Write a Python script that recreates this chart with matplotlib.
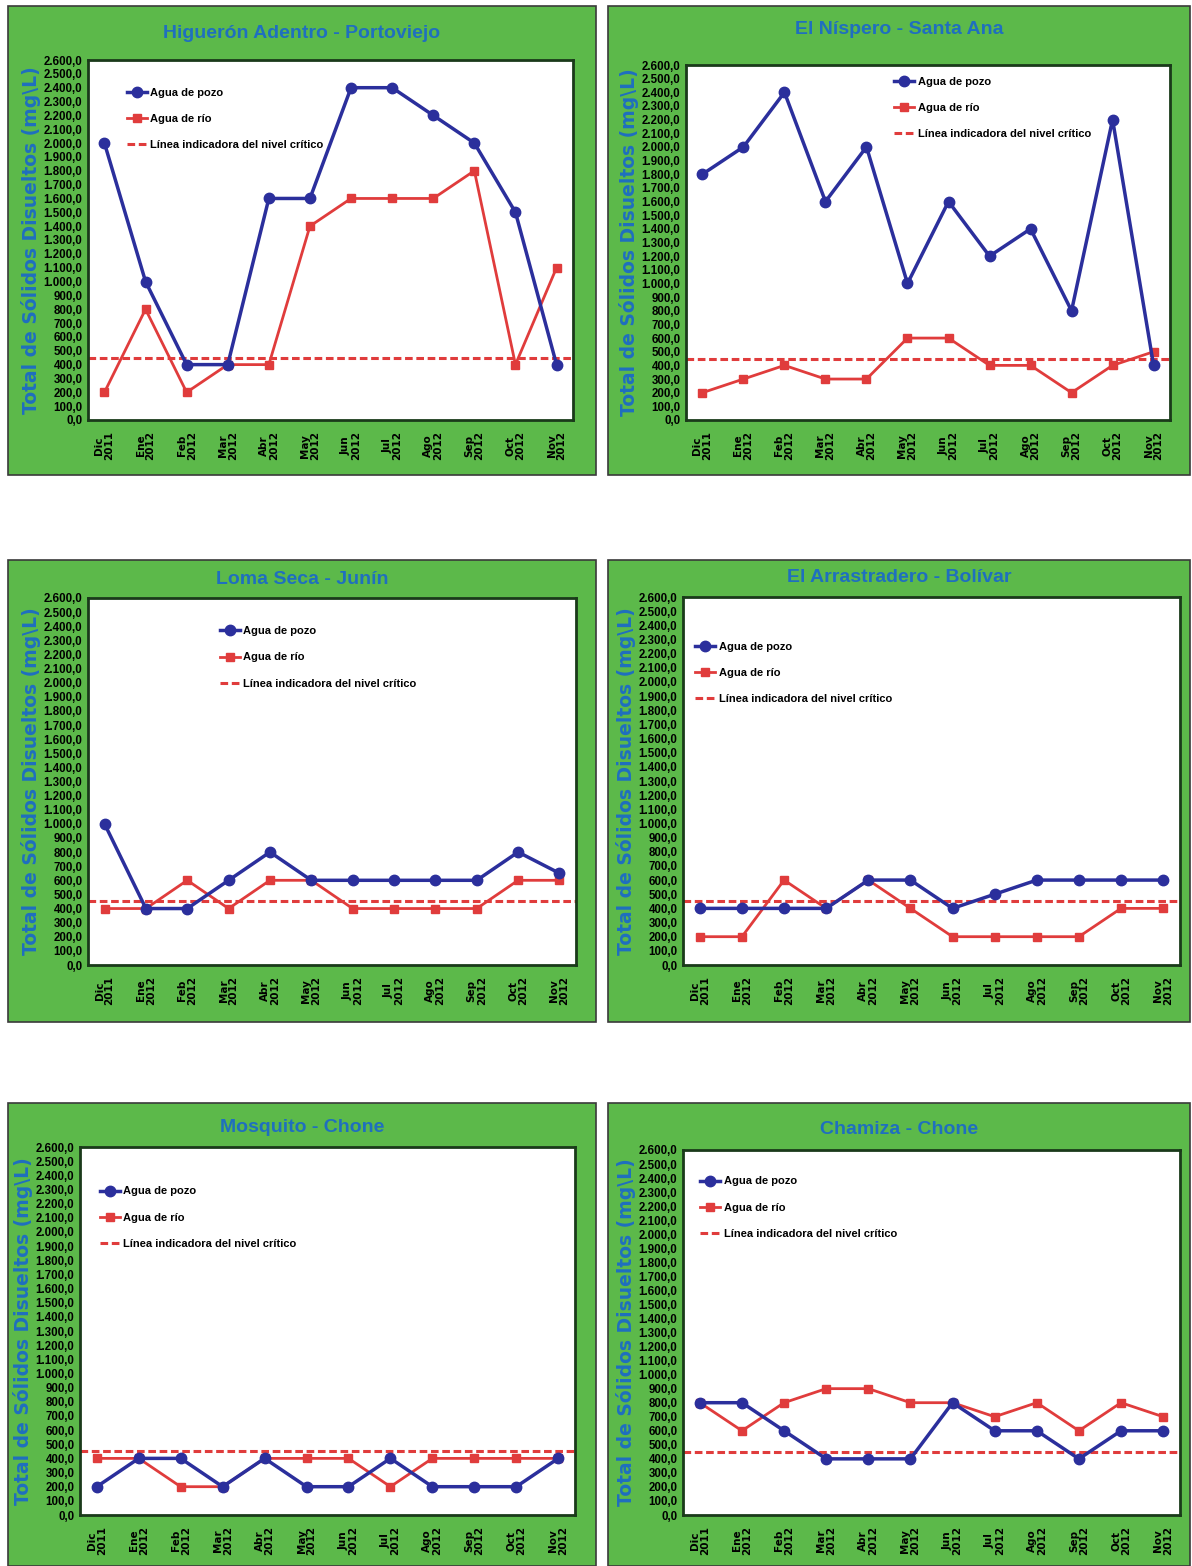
import numpy as np
import matplotlib
matplotlib.use("Agg")
import matplotlib.pyplot as plt
from matplotlib.patches import Rectangle
from matplotlib.ticker import FuncFormatter

# datos (mg/L) - Dic 2011 a Nov 2012
meses = ["Dic\n2011", "Ene\n2012", "Feb\n2012", "Mar\n2012", "Abr\n2012", "May\n2012",
         "Jun\n2012", "Jul\n2012", "Ago\n2012", "Sep\n2012", "Oct\n2012", "Nov\n2012"]
nivel_critico = 450

titulos = ["Higuerón Adentro - Portoviejo", "El Níspero - Santa Ana", "Loma Seca - Junín",
           "El Arrastradero - Bolívar", "Mosquito - Chone", "Chamiza - Chone"]

pozo_higueron = [2000, 1000, 400, 400, 1600, 1600, 2400, 2400, 2200, 2000, 1500, 400]
rio_higueron = [200, 800, 200, 400, 400, 1400, 1600, 1600, 1600, 1800, 400, 1100]

pozo_nispero = [1800, 2000, 2400, 1600, 2000, 1000, 1600, 1200, 1400, 800, 2200, 400]
rio_nispero = [200, 300, 400, 300, 300, 600, 600, 400, 400, 200, 400, 500]

pozo_loma = [1000, 400, 400, 600, 800, 600, 600, 600, 600, 600, 800, 650]
rio_loma = [400, 400, 600, 400, 600, 600, 400, 400, 400, 400, 600, 600]

pozo_arrastradero = [400, 400, 400, 400, 600, 600, 400, 500, 600, 600, 600, 600]
rio_arrastradero = [200, 200, 600, 400, 600, 400, 200, 200, 200, 200, 400, 400]

pozo_mosquito = [200, 400, 400, 200, 400, 200, 200, 400, 200, 200, 200, 400]
rio_mosquito = [400, 400, 200, 200, 400, 400, 400, 200, 400, 400, 400, 400]

pozo_chamiza = [800, 800, 600, 400, 400, 400, 800, 600, 600, 400, 600, 600]
rio_chamiza = [800, 600, 800, 900, 900, 800, 800, 700, 800, 600, 800, 700]

pozos = [pozo_higueron, pozo_nispero, pozo_loma, pozo_arrastradero, pozo_mosquito, pozo_chamiza]
rios = [rio_higueron, rio_nispero, rio_loma, rio_arrastradero, rio_mosquito, rio_chamiza]

W, H = 1192, 1566
VERDE = "#5cb94a"
AZUL = "#2b2f9c"
ROJO = "#e03c3c"
AZUL_TXT = "#1f6fbf"
fuente = ["Liberation Sans", "DejaVu Sans"]

# cajas verdes y ejes (pixeles: x0, y0, x1, y1)
cajas = [(8, 6, 596, 475), (608, 6, 1190, 475),
         (8, 560, 596, 1022), (608, 560, 1190, 1022),
         (8, 1103, 596, 1566), (608, 1103, 1190, 1566)]
ejes = [(88, 60, 573, 420), (686, 65, 1170, 420),
        (88, 598, 576, 965), (683, 597, 1180, 965),
        (80, 1147, 575, 1515), (683, 1150, 1180, 1515)]
titulo_y = [33, 30, 580, 578, 1127, 1130]
leyendas = [(0.06, 0.95), (0.41, 0.995), (0.25, 0.95), (0.005, 0.905), (0.02, 0.92), (0.015, 0.955)]

fig = plt.figure(figsize=(W / 100, H / 100), dpi=100)
fig.patch.set_facecolor("white")


def fmt(v, pos):
    s = f"{v:,.1f}"
    return s.replace(",", "X").replace(".", ",").replace("X", ".")


for i in range(6):
    x0, y0, x1, y1 = cajas[i]
    fig.patches.append(Rectangle((x0 / W, 1 - y1 / H), (x1 - x0) / W, (y1 - y0) / H,
                                 transform=fig.transFigure, facecolor=VERDE,
                                 edgecolor="#3a3a3a", linewidth=1.2, zorder=-5))
    fig.text((x0 + x1) / 2 / W, 1 - titulo_y[i] / H, titulos[i], ha="center", va="center",
             color=AZUL_TXT, fontsize=14, fontweight="bold", family=fuente)
    a0, b0, a1, b1 = ejes[i]
    ax = fig.add_axes([a0 / W, 1 - b1 / H, (a1 - a0) / W, (b1 - b0) / H])
    ax.set_facecolor("white")
    x = np.arange(len(meses))
    ax.plot(x, pozos[i], color=AZUL, lw=2.5, marker="o", ms=7.5, label="Agua de pozo", zorder=4)
    ax.plot(x, rios[i], color=ROJO, lw=2, marker="s", ms=6, label="Agua de río", zorder=3)
    ax.axhline(nivel_critico, color=ROJO, lw=2.2, ls=(0, (2.5, 1.2)),
               label="Línea indicadora del nivel crítico", zorder=2)
    ax.set_ylim(0, 2600)
    ax.set_xlim(-0.4, 11.4)
    ax.set_yticks(np.arange(0, 2601, 100))
    ax.yaxis.set_major_formatter(FuncFormatter(fmt))
    ax.set_xticks(x)
    ax.set_xticklabels(meses, rotation=90, fontsize=7.5, fontweight="bold",
                       linespacing=1.0)
    for t in ax.get_yticklabels():
        t.set_fontsize(8.3)
        t.set_fontweight("bold")
        t.set_family(fuente)
    ax.tick_params(axis="y", length=0, pad=4)
    ax.tick_params(axis="x", length=0, pad=8)
    for sp in ax.spines.values():
        sp.set_color("#1a3a1a")
        sp.set_linewidth(2)
    ax.set_ylabel("Total de Sólidos Disueltos (mg\\L)", color=AZUL_TXT, fontsize=13.5,
                  fontweight="bold", labelpad=2)
    leg = ax.legend(loc="upper left", bbox_to_anchor=leyendas[i], frameon=False,
                    prop={"family": fuente, "weight": "bold", "size": 8},
                    labelspacing=1.45, handlelength=1.8, handletextpad=0.3)

fig.savefig("out.png", dpi=100)
